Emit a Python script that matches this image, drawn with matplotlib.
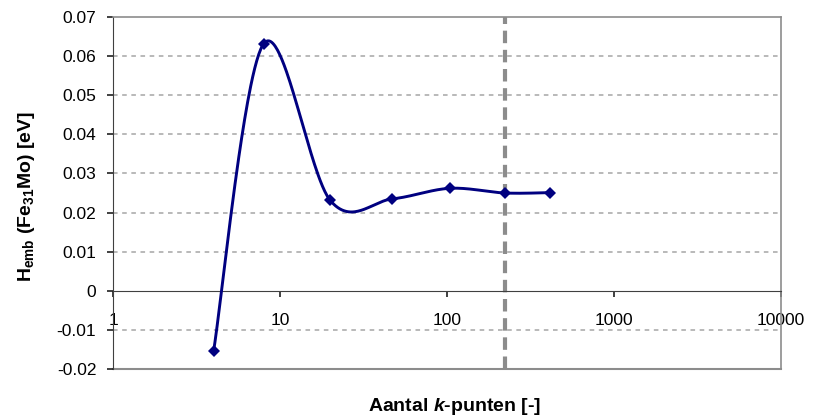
import numpy as np
import matplotlib
matplotlib.use("Agg")
import matplotlib.pyplot as plt
from matplotlib.ticker import FixedLocator, NullLocator, FuncFormatter

plt.rcParams['font.family'] = ['Liberation Sans', 'DejaVu Sans']
plt.rcParams['mathtext.fontset'] = 'custom'
plt.rcParams['mathtext.rm'] = 'Liberation Sans:bold'
plt.rcParams['mathtext.bf'] = 'Liberation Sans:bold'
plt.rcParams['mathtext.it'] = 'Liberation Sans:italic:bold'

# aantal k-punten en inbeddingsenergie
k_punten = [4, 8, 20, 47, 104, 222, 414]
h_emb = [-0.0155, 0.0632, 0.0231, 0.0235, 0.0262, 0.0250, 0.0251]
k_gekozen = 222

x_ticks = [1, 10, 100, 1000, 10000]
y_ticks = [-0.02, -0.01, 0, 0.01, 0.02, 0.03, 0.04, 0.05, 0.06, 0.07]


def glad(xs, ys, n=60):
    # Excel-achtige gladde lijn: Bezier met raaklijnen (P[i+1]-P[i-1])/6 in (log x, y)
    u = np.log10(xs)
    p = np.column_stack([u, ys])
    p = np.vstack([p[0], p, p[-1]])
    t = np.linspace(0, 1, n)[:, None]
    stukken = []
    for i in range(1, len(p) - 2):
        b0 = p[i]
        b3 = p[i + 1]
        b1 = b0 + (p[i + 1] - p[i - 1]) / 6
        b2 = b3 - (p[i + 2] - p[i]) / 6
        c = ((1 - t) ** 3) * b0 + 3 * ((1 - t) ** 2) * t * b1 + 3 * (1 - t) * t ** 2 * b2 + t ** 3 * b3
        stukken.append(c)
    c = np.vstack(stukken)
    return 10 ** c[:, 0], c[:, 1]


fig = plt.figure(figsize=(8.14, 4.19), dpi=100)
ax = fig.add_axes([113 / 814, 1 - 369 / 419, 668 / 814, 352 / 419])

ax.set_xscale('log')
ax.set_xlim(1, 10000)
ax.set_ylim(-0.02, 0.07)

# horizontale stippellijnen
for yv in y_ticks[1:-1]:
    if yv != 0:
        ax.axhline(yv, color='#a6a6a6', lw=1.1, dashes=(3, 3), zorder=1)

# gekozen aantal k-punten
ax.axvline(k_gekozen, color='#8c8c8c', lw=3, dashes=(3, 1.6), zorder=2)

gx, gy = glad(k_punten, h_emb)
ax.plot(gx, gy, color='#000080', lw=2.1, zorder=3)
ax.plot(k_punten, h_emb, 'D', color='#000080', ms=6.5, mew=0, zorder=4)

# assen: x-as door 0, grijze kader
ax.spines['bottom'].set_position(('data', 0))
ax.spines['bottom'].set_color('#404040')
ax.spines['left'].set_color('#404040')
for s in ['top', 'right']:
    ax.spines[s].set_color('#8c8c8c')
    ax.spines[s].set_linewidth(1.2)
ax.axhline(-0.02, color='#8c8c8c', lw=1.5, clip_on=False, zorder=1)

ax.xaxis.set_major_locator(FixedLocator(x_ticks))
ax.xaxis.set_minor_locator(NullLocator())
ax.xaxis.set_major_formatter(FuncFormatter(lambda v, p: '%d' % round(v)))
ax.yaxis.set_major_locator(FixedLocator(y_ticks))
ax.yaxis.set_major_formatter(FuncFormatter(lambda v, p: '0' if abs(v) < 1e-9 else ('%.2f' % v)))

ax.tick_params(axis='x', direction='out', length=4, width=1.2, color='#202020', pad=12, labelsize=12.5)
ax.tick_params(axis='y', direction='out', length=4, width=1.2, color='#202020', pad=8, labelsize=12.5)

fig.text(27 / 814, 1 - 196 / 419, r'H$_{\rm emb}$ (Fe$_{31}$Mo) [eV]', rotation=90,
         ha='center', va='center', fontsize=14, fontweight='bold')
fig.text(455 / 814, 1 - 406 / 419, r'Aantal $k$-punten [-]',
         ha='center', va='center', fontsize=14, fontweight='bold')

fig.savefig('out.png', dpi=100)
